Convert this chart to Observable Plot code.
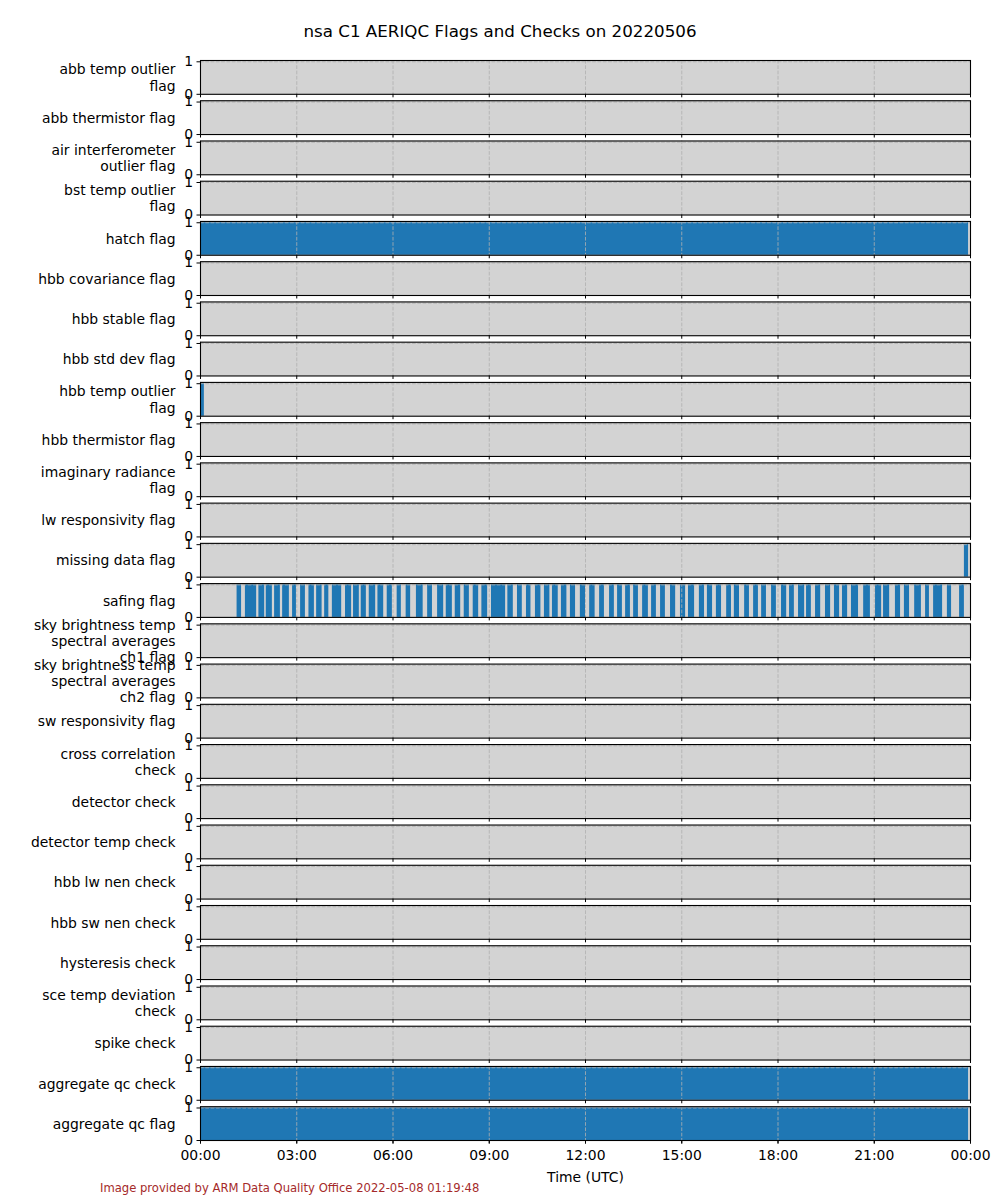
<!DOCTYPE html>
<html>
<head>
<meta charset="utf-8">
<script src="https://cdn.jsdelivr.net/npm/d3@7"></script>
<script src="https://cdn.jsdelivr.net/npm/@observablehq/plot@0.6"></script>
<style>
  html, body { margin: 0; padding: 0; background: white; }
  #wrap { position: relative; width: 1000px; height: 1200px; font-family: "DejaVu Sans", sans-serif; }
  #title { position: absolute; top: 0; left: 0; width: 1000px; height: 50px; text-align: center;
           font-size: 16.7px; line-height: 20px; padding-top: 21px; box-sizing: border-box; color: black; }
  #chart { position: absolute; top: 50px; left: 0; }
  #caption { position: absolute; top: 1181px; left: 100px; font-size: 11.6px; color: brown; white-space: nowrap; }
</style>
</head>
<body>
<div id="wrap">
  <div id="title">nsa C1 AERIQC Flags and Checks on 20220506</div>
  <div id="chart"></div>
  <div id="caption">Image provided by ARM Data Quality Office 2022-05-08 01:19:48</div>
</div>
<script>
const flagLabels = [
  "abb temp outlier\nflag",
  "abb thermistor flag",
  "air interferometer\noutlier flag",
  "bst temp outlier\nflag",
  "hatch flag",
  "hbb covariance flag",
  "hbb stable flag",
  "hbb std dev flag",
  "hbb temp outlier\nflag",
  "hbb thermistor flag",
  "imaginary radiance\nflag",
  "lw responsivity flag",
  "missing data flag",
  "safing flag",
  "sky brightness temp\nspectral averages\nch1 flag",
  "sky brightness temp\nspectral averages\nch2 flag",
  "sw responsivity flag",
  "cross correlation\ncheck",
  "detector check",
  "detector temp check",
  "hbb lw nen check",
  "hbb sw nen check",
  "hysteresis check",
  "sce temp deviation\ncheck",
  "spike check",
  "aggregate qc check",
  "aggregate qc flag"
];

// flagged intervals, [start hour, end hour] UTC
const hatchFlag = [[0, 23.94]];
const hbbTempOutlierFlag = [[0, 0.12]];
const missingDataFlag = [[23.81, 23.94]];
const safingFlag = [
  [1.14, 1.28], [1.40, 1.75], [1.82, 2.00], [2.05, 2.24], [2.31, 2.49], [2.56, 2.77],
  [2.87, 2.99], [3.12, 3.27], [3.38, 3.55], [3.62, 3.79], [3.87, 4.00], [4.11, 4.40],
  [4.52, 4.71], [4.77, 4.95], [5.01, 5.17], [5.26, 5.46], [5.53, 5.71], [5.82, 5.98],
  [6.13, 6.26], [6.41, 6.55], [6.73, 6.94], [7.08, 7.23], [7.39, 7.58], [7.66, 7.85],
  [7.94, 8.11], [8.22, 8.38], [8.50, 8.67], [8.77, 8.95], [9.07, 9.51], [9.58, 9.75],
  [9.88, 10.03], [10.16, 10.30], [10.44, 10.61], [10.72, 10.89], [10.97, 11.15],
  [11.25, 11.42], [11.53, 11.69], [11.84, 12.00], [12.13, 12.30], [12.44, 12.59],
  [12.75, 12.90], [13.00, 13.15], [13.25, 13.40], [13.50, 13.65], [13.78, 13.96],
  [14.06, 14.21], [14.34, 14.49], [14.65, 14.81], [14.96, 15.12], [15.21, 15.40],
  [15.55, 15.71], [15.80, 15.96], [16.08, 16.24], [16.40, 16.55], [16.64, 16.80],
  [16.96, 17.11], [17.24, 17.39], [17.49, 17.64], [17.80, 17.95], [18.11, 18.27],
  [18.36, 18.51], [18.64, 18.83], [18.89, 19.04], [19.17, 19.33], [19.48, 19.64],
  [19.76, 19.92], [20.01, 20.17], [20.29, 20.51], [20.67, 20.88], [21.04, 21.23],
  [21.29, 21.48], [21.66, 21.82], [21.94, 22.10], [22.26, 22.47], [22.60, 22.72],
  [22.85, 23.13], [23.28, 23.41], [23.66, 23.81]
];
const aggregateQcCheck = [[0, 23.94]];
const aggregateQcFlag = [[0, 23.94]];

const xTickHours = [0, 3, 6, 9, 12, 15, 18, 21, 24];

const t0 = Date.UTC(2022, 4, 6);
const toDate = h => new Date(t0 + h * 3600e3);

const flagged = [
  ["hatch flag", hatchFlag],
  ["hbb temp outlier\nflag", hbbTempOutlierFlag],
  ["missing data flag", missingDataFlag],
  ["safing flag", safingFlag],
  ["aggregate qc check", aggregateQcCheck],
  ["aggregate qc flag", aggregateQcFlag]
];
const rows = flagged.flatMap(([panel, ivs]) =>
  ivs.map(([a, b]) => ({panel, x1: toDate(a), x2: toDate(b)})));
const xTicks = xTickHours.map(toDate);

const grid = {stroke: "#b0b0b0", strokeDasharray: "3.7,1.6", strokeWidth: 0.8};

const chart = Plot.plot({
  width: 1000,
  height: 1135,
  marginLeft: 200,
  marginRight: 30,
  marginTop: 10,
  marginBottom: 45,
  style: {fontFamily: "DejaVu Sans", fontSize: "13.9px", background: "white", color: "black"},
  x: {type: "utc", domain: [toDate(0), toDate(24)]},
  y: {domain: [0, 1.04]},
  fy: {domain: flagLabels, paddingInner: 0.16, paddingOuter: 0, round: false, axis: null},
  marks: [
    Plot.frame({fill: "#d3d3d3"}),
    Plot.rect(rows, {x1: "x1", x2: "x2", y1: 0, y2: 1, fy: "panel", fill: "#1f77b4"}),
    Plot.ruleX(xTicks, {x: d => d, ...grid}),
    Plot.ruleY([1], {y: d => d, ...grid}),
    Plot.frame({stroke: "black", strokeWidth: 1.1}),
    Plot.axisY({ticks: [0, 1], tickSize: 3.5, tickPadding: 4, label: null, tickFormat: d => String(d),
                fontSize: "13.9px", fill: "black", stroke: "black"}),
    Plot.axisX({ticks: xTicks, tickSize: 3.5, tickFormat: () => "", label: null, facetAnchor: null}),
    Plot.axisX({ticks: xTicks, tickSize: 3.5, tickPadding: 6, tickFormat: d3.utcFormat("%H:%M"),
                label: "Time (UTC)", labelAnchor: "center", labelArrow: "none", labelOffset: 41,
                fontSize: "13.9px", fill: "black"}),
    Plot.text(flagLabels, {fy: d => d, text: d => d, frameAnchor: "left", dx: -25, textAnchor: "end",
                           lineHeight: 1.17, fontSize: "13.9px", fill: "black"})
  ]
});
document.getElementById("chart").appendChild(chart);
</script>
</body>
</html>
